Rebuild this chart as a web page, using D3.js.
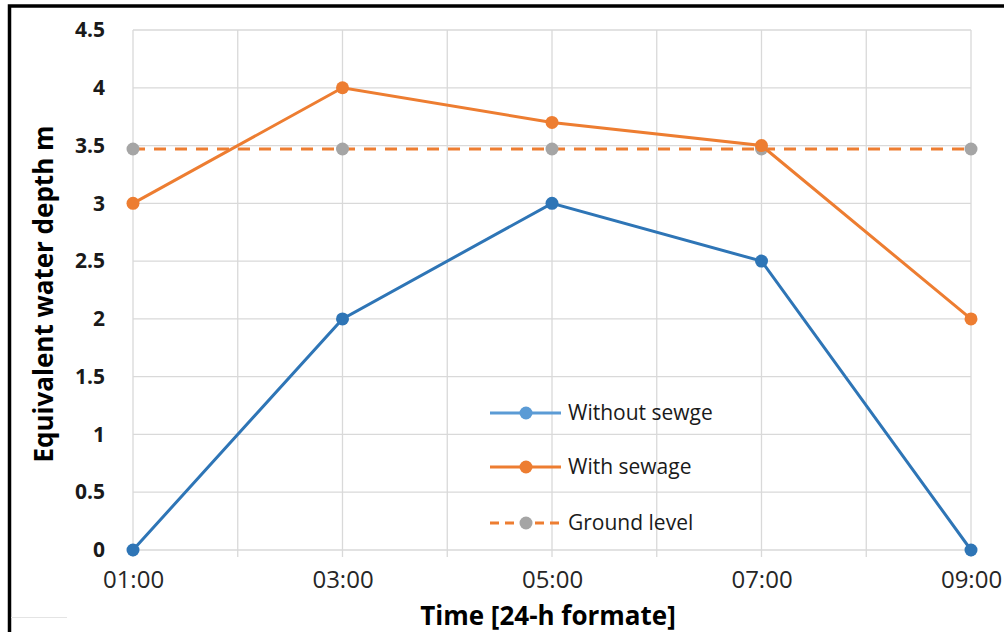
<!DOCTYPE html>
<html>
<head>
<meta charset="utf-8">
<script src="https://cdn.jsdelivr.net/npm/d3@7"></script>
<style>
  html, body { margin: 0; padding: 0; background: #fff; }
  svg { display: block; }
</style>
</head>
<body>
<svg id="chart" width="1004" height="632"></svg>
<script>
// Hourly time axis (labels on odd hours only)
const hours = ["01:00", "02:00", "03:00", "04:00", "05:00", "06:00", "07:00", "08:00", "09:00"];
const times = ["01:00", "03:00", "05:00", "07:00", "09:00"];
const withoutSewage = [0, 2, 3, 2.5, 0];
const withSewage = [3, 4, 3.7, 3.5, 2];
const groundLevel = [3.47, 3.47, 3.47, 3.47, 3.47];
const yTicks = [0, 0.5, 1, 1.5, 2, 2.5, 3, 3.5, 4, 4.5];
const seriesNames = ["Without sewge", "With sewage", "Ground level"];

const svg = d3.select("#chart");
const W = 1004, H = 632;
const m = { left: 133, right: 33, top: 30, bottom: 82 };

const x = d3.scalePoint().domain(hours).range([m.left, W - m.right]);
const y = d3.scaleLinear().domain([0, 4.5]).range([H - m.bottom, m.top]);

const font = "'Open Sans', 'Liberation Sans', sans-serif";

// Outer frame
svg.append("path")
  .attr("d", `M9.5,${H} L9.5,6 L${W},6`)
  .attr("fill", "none").attr("stroke", "#000").attr("stroke-width", 3.5);
svg.append("line")
  .attr("x1", 11).attr("x2", 67).attr("y1", 617.5).attr("y2", 617.5)
  .attr("stroke", "#e4e4e4").attr("stroke-width", 1);

// Gridlines
const grid = svg.append("g");
grid.selectAll("line.h").data(yTicks).join("line")
  .attr("x1", m.left).attr("x2", W - m.right)
  .attr("y1", d => y(d)).attr("y2", d => y(d))
  .attr("stroke", "#d9d9d9").attr("stroke-width", 1.3);
grid.selectAll("line.v").data(hours).join("line")
  .attr("x1", d => x(d)).attr("x2", d => x(d))
  .attr("y1", m.top).attr("y2", y(0) + 7)
  .attr("stroke", "#d9d9d9").attr("stroke-width", 1.3);

// Y axis labels
const yAxis = d3.axisLeft(y).tickValues(yTicks).tickSize(0).tickPadding(28)
  .tickFormat(d => String(d));
const gy = svg.append("g").attr("transform", `translate(${m.left},0)`).call(yAxis);
gy.select(".domain").remove();
gy.selectAll("text")
  .attr("font-family", font).attr("font-size", 21).attr("font-weight", "bold")
  .attr("fill", "#1a1a1a");

// X axis labels (odd hours)
const xAxis = d3.axisBottom(x).tickValues(times).tickSize(0);
const gx = svg.append("g").attr("transform", `translate(0,${y(0)})`).call(xAxis);
gx.select(".domain").remove();
gx.selectAll("text")
  .attr("y", 38).attr("dy", null)
  .attr("font-family", font).attr("font-size", 24)
  .attr("fill", "#262626");

// Axis titles
svg.append("text")
  .attr("x", 548).attr("y", 625)
  .attr("text-anchor", "middle")
  .attr("font-family", font).attr("font-size", 26).attr("font-weight", "bold")
  .attr("fill", "#000")
  .text("Time [24-h formate]");
svg.append("text")
  .attr("transform", "translate(53,294) rotate(-90)")
  .attr("text-anchor", "middle")
  .attr("font-family", font).attr("font-size", 26).attr("font-weight", "bold")
  .attr("fill", "#000")
  .text("Equivalent water depth m");

const line = d3.line().x((d, i) => x(times[i])).y(d => y(d));

const series = [
  { name: seriesNames[0], values: withoutSewage, stroke: "#2e75b6", marker: "#2e75b6", legendStroke: "#5b9bd5", legendMarker: "#5b9bd5", dash: null },
  { name: seriesNames[1], values: withSewage, stroke: "#ed7d31", marker: "#ed7d31", legendStroke: "#ed7d31", legendMarker: "#ed7d31", dash: null },
  { name: seriesNames[2], values: groundLevel, stroke: "#ed7d31", marker: "#a5a5a5", legendStroke: "#ed7d31", legendMarker: "#a5a5a5", dash: "12,9" }
];

// Draw ground level first, then the two depth series on top
[series[2], series[1], series[0]].forEach(s => {
  const g = svg.append("g");
  g.append("path").datum(s.values)
    .attr("d", line)
    .attr("fill", "none")
    .attr("stroke", s.stroke).attr("stroke-width", 3)
    .attr("stroke-dasharray", s.dash);
  g.selectAll("circle").data(s.values).join("circle")
    .attr("cx", (d, i) => x(times[i])).attr("cy", d => y(d))
    .attr("r", 6.5).attr("fill", s.marker);
});

// Legend
const legend = svg.append("g");
const rowY = [413, 467, 523];
series.forEach((s, i) => {
  const ly = rowY[i];
  legend.append("line")
    .attr("x1", 490).attr("x2", 561).attr("y1", ly).attr("y2", ly)
    .attr("stroke", s.legendStroke).attr("stroke-width", 3)
    .attr("stroke-dasharray", s.dash ? "9,6" : null);
  legend.append("circle")
    .attr("cx", 526).attr("cy", ly).attr("r", 6.5).attr("fill", s.legendMarker);
  legend.append("text")
    .attr("x", 568).attr("y", ly).attr("dy", "0.35em")
    .attr("font-family", font).attr("font-size", 21)
    .attr("fill", "#1a1a1a")
    .text(s.name);
});
</script>
</body>
</html>
